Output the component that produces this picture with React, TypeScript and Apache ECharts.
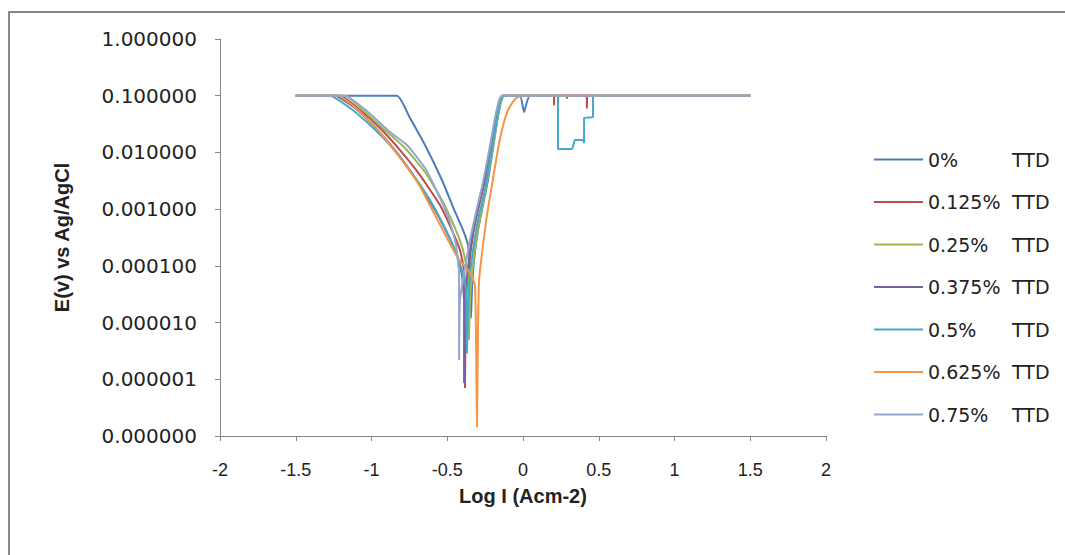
import React, { useEffect, useRef } from "react";
import * as echarts from "echarts";

type Pt = [number, number];

const xTicks = { min: -2, max: 2, step: 0.5 };
const yRange = { min: 1e-7, max: 1 };

const seriesNames = [
  "0%       TTD",
  "0.125%  TTD",
  "0.25%    TTD",
  "0.375%  TTD",
  "0.5%      TTD",
  "0.625%  TTD",
  "0.75%    TTD",
];

const seriesColors = ["#4A7EBB", "#BE4B48", "#98B954", "#7D60A0", "#46AAC5", "#F69546", "#91A8CF"];

const ttd0: Pt[] = [
  [-1.5, 0.1], [-0.832, 0.1], [-0.746, 0.0404], [-0.647, 0.0135], [-0.535, 0.00326],
  [-0.462, 0.00109], [-0.396, 0.000428], [-0.363, 0.000233], [-0.35, 0.000103], [-0.343, 0.000012],
  [-0.337, 0.0000374], [-0.323, 0.000127], [-0.297, 0.000428], [-0.264, 0.00118], [-0.231, 0.00326],
  [-0.205, 0.009], [-0.185, 0.0203], [-0.165, 0.0457], [-0.139, 0.092], [-0.132, 0.1],
  [-0.02, 0.1], [0.007, 0.0516], [0.046, 0.1], [1.5, 0.1],
];

const ttd0125: Pt[] = [
  [-1.5, 0.1], [-1.208, 0.1], [-1.076, 0.056], [-0.944, 0.0269], [-0.812, 0.011],
  [-0.68, 0.00399], [-0.548, 0.00118], [-0.469, 0.000428], [-0.416, 0.00019], [-0.389, 0.0000843],
  [-0.383, 0.0000249], [-0.383, 0.0000007], [-0.376, 0.0000249], [-0.356, 0.000103], [-0.33, 0.000349],
  [-0.297, 0.000964], [-0.257, 0.00266], [-0.224, 0.00735], [-0.198, 0.0179], [-0.172, 0.0421],
  [-0.145, 0.084], [-0.132, 0.1], [0.204, 0.1], [0.205, 0.0686], [0.206, 0.1],
  [0.288, 0.1], [0.29, 0.091], [0.292, 0.1], [0.421, 0.1], [0.422, 0.0607], [0.424, 0.1], [1.5, 0.1],
];

const ttd025: Pt[] = [
  [-1.5, 0.1], [-1.175, 0.1], [-1.043, 0.0516], [-0.911, 0.0248], [-0.779, 0.012],
  [-0.647, 0.00451], [-0.535, 0.00145], [-0.449, 0.000465], [-0.396, 0.00019], [-0.363, 0.0000689],
  [-0.356, 0.00000491], [-0.35, 0.0000249], [-0.33, 0.000103], [-0.304, 0.000349], [-0.271, 0.00104],
  [-0.238, 0.00301], [-0.211, 0.00797], [-0.185, 0.0203], [-0.165, 0.0438], [-0.139, 0.0874],
  [-0.125, 0.1], [1.5, 0.1],
];

const ttd0375: Pt[] = [
  [-1.5, 0.1], [-1.241, 0.1], [-1.109, 0.0607], [-0.977, 0.0281], [-0.845, 0.011],
  [-0.713, 0.00354], [-0.581, 0.000964], [-0.495, 0.000349], [-0.436, 0.000155], [-0.403, 0.0000689],
  [-0.389, 0.0000249], [-0.389, 0.000000857], [-0.383, 0.0000249], [-0.363, 0.0000914], [-0.337, 0.000309],
  [-0.304, 0.000889], [-0.264, 0.00245], [-0.231, 0.00678], [-0.205, 0.0166], [-0.178, 0.0404],
  [-0.152, 0.084], [-0.139, 0.1], [1.5, 0.1],
];

const ttd05: Pt[] = [
  [-1.5, 0.1], [-1.274, 0.1], [-1.142, 0.0607], [-1.01, 0.0304], [-0.878, 0.0135],
  [-0.746, 0.0049], [-0.614, 0.00145], [-0.515, 0.000465], [-0.449, 0.00019], [-0.403, 0.0000843],
  [-0.376, 0.0000374], [-0.37, 0.0000029], [-0.363, 0.0000166], [-0.35, 0.0000689], [-0.323, 0.000252],
  [-0.29, 0.000787], [-0.251, 0.00217], [-0.224, 0.006], [-0.198, 0.0152], [-0.172, 0.0373],
  [-0.152, 0.0774], [-0.132, 0.1], [0.231, 0.1], [0.231, 0.0115], [0.323, 0.0115],
  [0.343, 0.0166], [0.396, 0.0166], [0.403, 0.0147], [0.403, 0.0404], [0.462, 0.0421],
  [0.462, 0.1], [1.5, 0.1],
];

const ttd0625: Pt[] = [
  [-1.5, 0.1], [-1.221, 0.1], [-1.089, 0.056], [-0.957, 0.0248], [-0.825, 0.009],
  [-0.693, 0.00289], [-0.581, 0.000787], [-0.495, 0.000285], [-0.429, 0.000137], [-0.363, 0.0000843],
  [-0.317, 0.0000459], [-0.304, 0.000000144], [-0.297, 0.00000738], [-0.29, 0.0000562], [-0.264, 0.000233],
  [-0.238, 0.000787], [-0.205, 0.00266], [-0.172, 0.009], [-0.139, 0.0248], [-0.099, 0.056],
  [-0.053, 0.0874], [-0.007, 0.1], [1.5, 0.1],
];

const ttd075: Pt[] = [
  [-1.5, 0.1], [-1.175, 0.1], [-1.023, 0.0516], [-0.878, 0.0229], [-0.766, 0.0135],
  [-0.647, 0.00531], [-0.548, 0.00157], [-0.482, 0.000592], [-0.442, 0.000233], [-0.422, 0.0000689],
  [-0.422, 0.00000218], [-0.416, 0.0000249], [-0.383, 0.0000914], [-0.35, 0.000285], [-0.31, 0.000889],
  [-0.271, 0.00245], [-0.238, 0.00678], [-0.211, 0.0166], [-0.185, 0.0404], [-0.158, 0.084],
  [-0.139, 0.1], [1.5, 0.1],
];

const seriesData: Pt[][] = [ttd0, ttd0125, ttd025, ttd0375, ttd05, ttd0625, ttd075];

const xTitle = "Log I (Acm-2)";
const yTitle = "E(v) vs Ag/AgCl";

export default function App() {
  const ref = useRef<HTMLDivElement>(null);
  useEffect(() => {
    if (!ref.current) return;
    const chart = echarts.init(ref.current, undefined, { renderer: "svg" });
    const axisGray = "#868686";
    chart.setOption({
      animation: false,
      backgroundColor: "#ffffff",
      graphic: [
        {
          type: "rect",
          shape: { x: 9, y: 12, width: 2000, height: 2000 },
          style: { fill: "none", stroke: "#878787", lineWidth: 2 },
          silent: true,
        },
      ],
      grid: { left: 220, top: 39, width: 606, height: 397, containLabel: false },
      legend: {
        orient: "vertical",
        left: 869,
        top: 145,
        icon: "rect",
        itemWidth: 49,
        itemHeight: 2,
        itemGap: 23.5,
        selectedMode: false,
        data: seriesNames,
        formatter: (name: string) => {
          const parts = name.split(/\s+/);
          return `{p|${parts[0]}}{t|${parts[1]}}`;
        },
        textStyle: {
          rich: {
            p: { width: 84, fontSize: 19, fontFamily: "DejaVu Sans", color: "#222", lineHeight: 20 },
            t: { fontSize: 19, fontFamily: "DejaVu Sans", color: "#222", lineHeight: 20 },
          },
        },
      },
      xAxis: {
        type: "value",
        min: xTicks.min,
        max: xTicks.max,
        interval: xTicks.step,
        name: xTitle,
        nameLocation: "middle",
        nameGap: 50,
        nameTextStyle: { fontSize: 20, fontWeight: "bold", fontFamily: "Liberation Sans", color: "#222" },
        axisLine: { onZero: false, lineStyle: { color: axisGray, width: 1 } },
        axisTick: { show: true, length: 5, lineStyle: { color: axisGray } },
        splitLine: { show: false },
        axisLabel: {
          margin: 25,
          fontSize: 18,
          fontFamily: "Liberation Sans Narrow, Liberation Sans",
          color: "#222",
          formatter: (v: number) => String(v),
        },
      },
      yAxis: {
        type: "log",
        logBase: 10,
        min: yRange.min,
        max: yRange.max,
        splitNumber: 8,
        name: yTitle,
        nameLocation: "middle",
        nameGap: 148,
        nameRotate: 90,
        nameTextStyle: { fontSize: 20, fontWeight: "bold", fontFamily: "Liberation Sans", color: "#222" },
        axisLine: { show: true, onZero: false, lineStyle: { color: axisGray, width: 1 } },
        axisTick: { show: true, length: 5, lineStyle: { color: axisGray } },
        splitLine: { show: false },
        axisLabel: {
          margin: 23,
          fontSize: 20,
          fontFamily: "DejaVu Sans",
          color: "#222",
          formatter: (v: number) => Number(v).toFixed(6),
        },
      },
      series: seriesNames.map((name, i) => ({
        name,
        type: "line",
        data: seriesData[i],
        symbol: "none",
        color: seriesColors[i],
        lineStyle: { width: 2, color: seriesColors[i] },
        itemStyle: { color: seriesColors[i] },
        smooth: 0.15,
      })),
    });
    return () => chart.dispose();
  }, []);
  return (
    <div
      ref={ref}
      style={{ position: "fixed", left: 0, top: 0, width: 1065, height: 555 }}
    />
  );
}
